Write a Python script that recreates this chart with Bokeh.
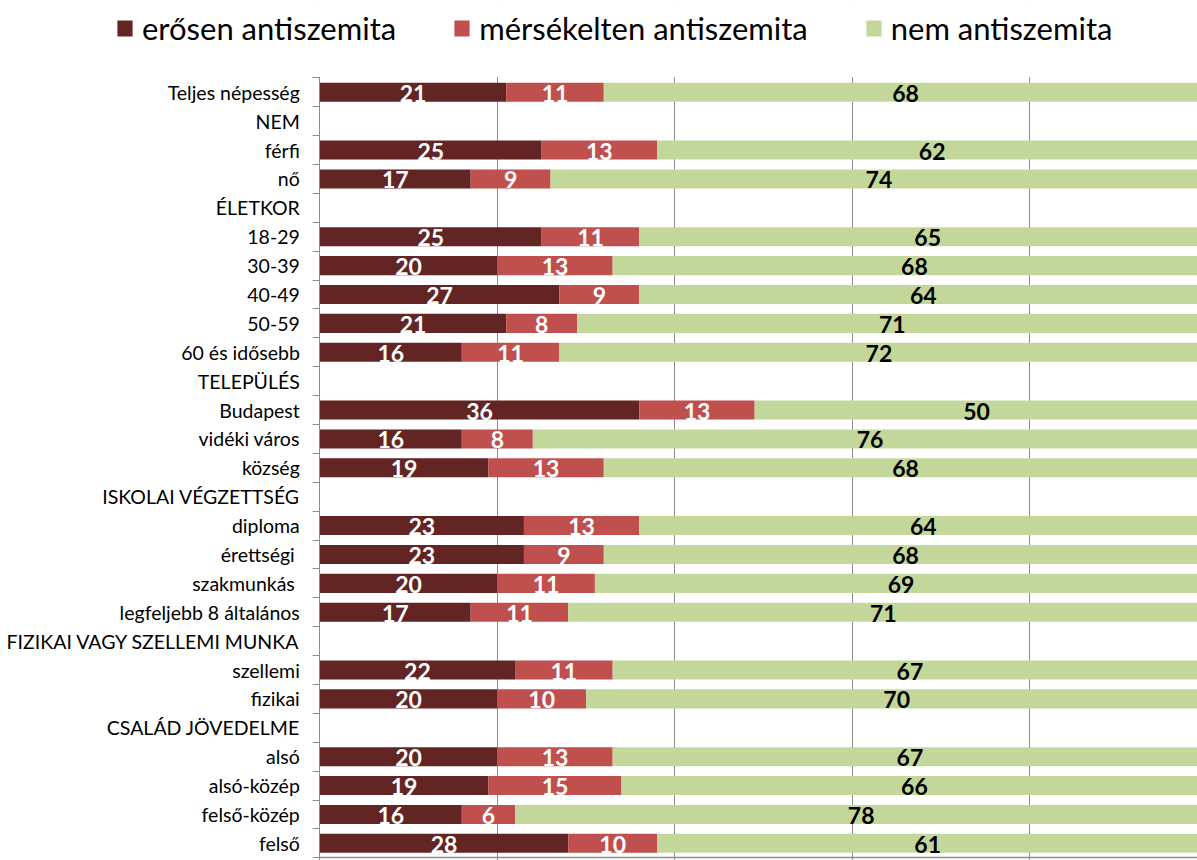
from bokeh.plotting import figure
from bokeh.models import (ColumnDataSource, Range1d, FixedTicker, Legend, LegendItem,
                          BoxAnnotation)
from bokeh.core.properties import value
from bokeh.embed import file_html
from bokeh.resources import INLINE

categories = [
    "Teljes népesség", "NEM", "férfi", "nő", "ÉLETKOR", "18-29", "30-39", "40-49",
    "50-59", "60 és idősebb", "TELEPÜLÉS", "Budapest", "vidéki város", "község",
    "ISKOLAI VÉGZETTSÉG", "diploma", "érettségi ", "szakmunkás ",
    "legfeljebb 8 általános", "FIZIKAI VAGY SZELLEMI MUNKA", "szellemi", "fizikai",
    "CSALÁD JÖVEDELME", "alsó", "alsó-közép", "felső-közép", "felső",
]
strong = [21, None, 25, 17, None, 25, 20, 27, 21, 16, None, 36, 16, 19, None,
          23, 23, 20, 17, None, 22, 20, None, 20, 19, 16, 28]
moderate = [11, None, 13, 9, None, 11, 13, 9, 8, 11, None, 13, 8, 13, None,
            13, 9, 11, 11, None, 11, 10, None, 13, 15, 6, 10]
none_ = [68, None, 62, 74, None, 65, 68, 64, 71, 72, None, 50, 76, 68, None,
         64, 68, 69, 71, None, 67, 70, None, 67, 66, 78, 61]
series_names = ["erősen antiszemita", "mérsékelten antiszemita", "nem antiszemita"]
x_ticks = [0, 20, 40, 60, 80, 100]

colors = ["#632523", "#C0504D", "#C4D79B"]
text_colors = ["white", "white", "black"]
FONT = "Lato"
GRAY = "#8c8c8c"

N = len(categories)
ys = [N - 1 - i for i in range(N)]

# frame covers the whole canvas; the chart area starts at x=0 / y=N-0.5
p = figure(width=1197, height=860, output_backend="svg", toolbar_location=None,
           x_range=Range1d(-35.98, 98.9), y_range=Range1d(-0.594, N - 0.5 + 2.677),
           min_border_left=0, min_border_right=0, min_border_top=0,
           min_border_bottom=0)
p.outline_line_color = None

series = [strong, moderate, none_]
renderers = []
for k, vals in enumerate(series):
    yy, left, right, lab, cx = [], [], [], [], []
    for i in range(N):
        if vals[i] is None:
            continue
        base = sum(series[j][i] for j in range(k))
        yy.append(ys[i])
        left.append(base)
        right.append(base + vals[i])
        lab.append(str(vals[i]))
        cx.append(base + vals[i] / 2)
    src = ColumnDataSource(dict(y=yy, left=left, right=right, lab=lab, cx=cx))
    r = p.hbar(y="y", left="left", right="right", height=0.66, source=src,
               fill_color=colors[k], line_color=None)
    renderers.append(r)
    p.text(x="cx", y="y", text="lab", source=src, text_align="center",
           text_baseline="middle", text_color=text_colors[k],
           text_font=value(FONT), text_font_style="bold", text_font_size="23px",
           y_offset=1)

# vertical grid lines
p.xgrid.ticker = FixedTicker(ticks=x_ticks)
p.xgrid.grid_line_color = GRAY
p.ygrid.grid_line_color = None

# bottom axis: line only
p.xaxis.fixed_location = -0.5
p.xaxis.bounds = (0, 100)
p.xaxis.ticker = FixedTicker(ticks=[])
p.xaxis.axis_line_color = GRAY
p.xaxis.axis_line_width = 1.5

# category axis at x = 0
p.yaxis.fixed_location = 0
p.yaxis.bounds = (-0.5, N - 0.5)
p.yaxis.ticker = FixedTicker(ticks=ys, minor_ticks=[k + 0.5 for k in range(-1, N)])
p.yaxis.major_label_overrides = {ys[i]: categories[i] for i in range(N)}
p.yaxis.major_tick_out = 0
p.yaxis.major_tick_in = 0
p.yaxis.minor_tick_out = 7
p.yaxis.minor_tick_in = 0
p.yaxis.axis_line_color = GRAY
p.yaxis.minor_tick_line_color = GRAY
p.yaxis.major_label_standoff = 13
p.yaxis.major_label_text_font = FONT
p.yaxis.major_label_text_font_size = "19.5px"
p.yaxis.major_label_text_color = "black"

# blank band above the chart area (hides grid lines there)
p.add_layout(BoxAnnotation(bottom=N - 0.47, fill_color="white", fill_alpha=1,
                           line_alpha=0))

legend = Legend(items=[LegendItem(label=series_names[k], renderers=[renderers[k]])
                       for k in range(3)],
                orientation="horizontal", location=(115, 813),
                glyph_width=19, glyph_height=20, label_standoff=8, spacing=56,
                padding=0, margin=0, border_line_color=None,
                background_fill_alpha=0, label_text_font=FONT,
                label_text_font_size="31px", label_text_color="black")
p.add_layout(legend, "center")

open("out.html", "w").write(file_html(p, INLINE))
